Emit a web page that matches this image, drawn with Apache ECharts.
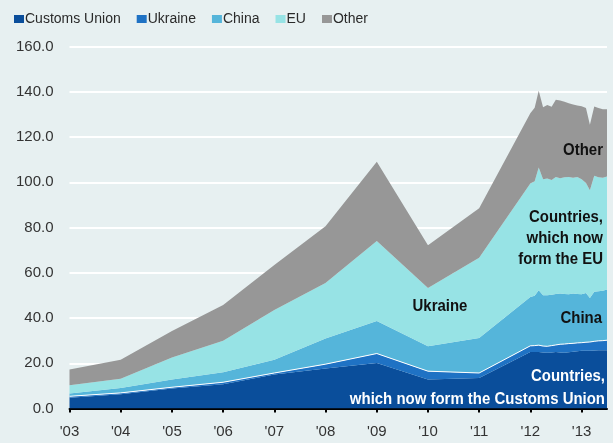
<!DOCTYPE html>
<html>
<head>
<meta charset="utf-8">
<script src="https://cdn.jsdelivr.net/npm/echarts@6/dist/echarts.min.js"></script>
<style>
html,body{margin:0;padding:0;background:#e7f0f1;}
#chart{width:613px;height:443px;}
</style>
</head>
<body>
<div id="chart"></div>
<script>
// Periods: annual 2003-2011, then monthly Jan 2012 - Jul 2013
const periods = ['2003','2004','2005','2006','2007','2008','2009','2010','2011',
  '2012-01','2012-02','2012-03','2012-04','2012-05','2012-06','2012-07','2012-08','2012-09','2012-10','2012-11','2012-12',
  '2013-01','2013-02','2013-03','2013-04','2013-05','2013-06','2013-07'];
const yTicks = [0,20,40,60,80,100,120,140,160];

const customsUnion = [4.8,6.3,8.8,10.7,15.0,17.7,20.1,12.8,13.5,
  25.0,25.0,25.0,24.8,24.6,24.8,25.0,24.8,24.7,24.9,25.1,25.3,25.5,25.5,25.5,25.6,25.8,25.8,25.8];
const ukraine = [0.6,0.6,0.6,0.9,0.7,1.9,4.2,3.7,2.2,
  2.7,2.8,3.0,2.8,2.9,3.0,3.1,3.6,3.8,3.8,3.7,3.7,3.6,3.8,3.9,4.1,4.1,4.2,4.4];
const china = [1.2,2.2,3.4,4.4,5.9,11.3,14.4,11.0,15.5,
  21.6,22.0,24.3,22.5,22.6,22.5,22.5,22.4,22.1,21.8,22.0,21.6,21.4,21.8,19.5,21.9,21.9,22.1,22.4];
const eu = [3.7,4.0,9.7,13.9,21.9,24.6,35.3,25.8,35.4,
  50.2,50.7,54.3,51.2,51.6,50.7,51.8,51.0,51.6,51.9,51.2,51.8,50.8,48.6,47.6,51.3,50.4,49.9,50.0];
const other = [6.9,8.5,11.8,15.9,19.9,25.1,35.1,18.9,21.9,
  31.0,32.5,33.9,31.9,32.5,32.4,34.1,34.4,33.4,32.5,32.4,31.6,32.3,33.1,29.0,30.6,30.6,30.3,29.7];

const names = ['Customs Union','Ukraine','China','EU','Other'];
const colors = ['#0a4e9b','#1f72c4','#55b5da','#97e3e5','#979797'];
const seriesValues = [customsUnion, ukraine, china, eu, other];

function toTime(p){
  const parts = p.split('-');
  const y = parseInt(parts[0],10);
  const m = parts.length > 1 ? parseInt(parts[1],10)-1 : 0;
  return Date.UTC(y, m, 1);
}
const xs = periods.map(toTime);
const YEAR_MS = 365.25*24*3600*1000;

const FONT = "'Liberation Sans',Arial,sans-serif";

const chart = echarts.init(document.getElementById('chart'), null, {renderer:'canvas'});

const series = names.map((n,i)=>({
  name:n, type:'line', stack:'total', symbol:'none', smooth:false,
  data: xs.map((x,j)=>[x, seriesValues[i][j]]),
  itemStyle:{color:colors[i]},
  lineStyle: i===1 ? {color:'#ffffff', width:1} : {width:0},
  areaStyle:{color:colors[i], opacity:1},
  z: 2
}));

function txt(x,y,t,fill,align){
  return {type:'text', x:x, y:y, z:100, scaleX:0.88,
    style:{text:t, font:"bold 17px " + FONT, fill: fill||'#111111', textAlign: align||'right', textVerticalAlign:'middle'}};
}

chart.setOption({
  useUTC:true,
  backgroundColor:'#e7f0f1',
  animation:false,
  grid:{left:69.5, right:6, top:46.6, bottom:34.5, containLabel:false},
  legend:{
    left:9, top:7, icon:'rect', itemWidth:10, itemHeight:8, itemGap:16,
    itemStyle:{borderWidth:0},
    textStyle:{fontFamily:FONT, fontSize:14, color:'#2a2a2a', padding:[0,0,0,-4]},
    data:names
  },
  xAxis:{
    type:'time', min:toTime('2003-01'), max:toTime('2013-07'),
    minInterval:YEAR_MS*0.99, maxInterval:YEAR_MS*1.01,
    axisLine:{show:true, lineStyle:{color:'#000000', width:2}},
    axisTick:{show:true, length:4, lineStyle:{color:'#000000', width:2}},
    axisLabel:{fontFamily:FONT, fontSize:15, color:'#333333', margin:16, showMaxLabel:false,
      formatter:function(v){ return "'" + String(new Date(v).getUTCFullYear()).slice(2); }},
    splitLine:{show:false}
  },
  yAxis:{
    type:'value', min:yTicks[0], max:yTicks[yTicks.length-1], interval:20,
    axisLine:{show:false}, axisTick:{show:false},
    axisLabel:{fontFamily:FONT, fontSize:15, color:'#333333', margin:16,
      formatter:function(v){ return v.toFixed(1); }},
    splitLine:{show:true, lineStyle:{color:'#ffffff', width:2}}
  },
  series: series,
  graphic:[
    txt(603,150,'Other'),
    txt(603,217,'Countries,'),
    txt(603,238,'which now'),
    txt(603,259,'form the EU'),
    txt(440,306,'Ukraine','#111111','center'),
    txt(602,318,'China'),
    txt(605,376,'Countries,','#ffffff'),
    txt(605,399,'which now form the Customs Union','#ffffff')
  ]
});
</script>
</body>
</html>
